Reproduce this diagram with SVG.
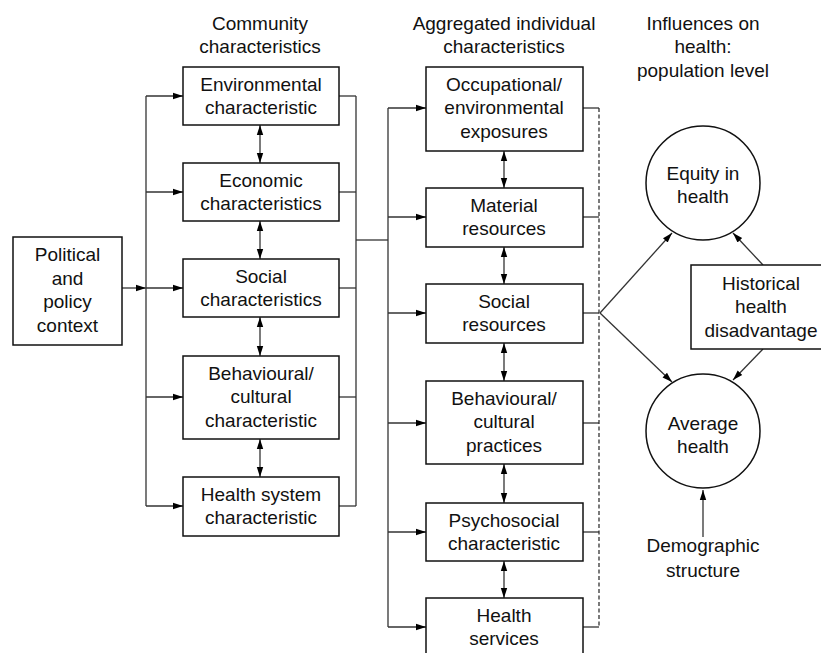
<svg xmlns="http://www.w3.org/2000/svg" width="821" height="653" viewBox="0 0 821 653">
<defs>
<marker id="ah" markerUnits="userSpaceOnUse" markerWidth="10" markerHeight="8" refX="10" refY="4" orient="auto-start-reverse" viewBox="0 0 10 8">
<path d="M0,0.8 L10,4 L0,7.2 z" fill="#000"/>
</marker>
<style>
text{font-family:"Liberation Sans",Arial,sans-serif;font-size:19px;fill:#111;text-anchor:middle}
.box{fill:#fff;stroke:#111;stroke-width:1.5}
.circ{fill:#fff;stroke:#111;stroke-width:1.5}
.ln{fill:none;stroke:#333;stroke-width:1.3}
.ar{fill:none;stroke:#333;stroke-width:1.3;marker-end:url(#ah)}
.dar{fill:none;stroke:#333;stroke-width:1.3;marker-end:url(#ah);marker-start:url(#ah)}
.dash{fill:none;stroke:#222;stroke-width:1.2;stroke-dasharray:4 2.5}
</style>
</defs>
<rect width="821" height="653" fill="#fff"/>

<g id="headers">
<text x="260" y="30">Community</text>
<text x="260" y="53">characteristics</text>
<text x="504" y="30">Aggregated individual</text>
<text x="504" y="53">characteristics</text>
<text x="703" y="30">Influences on</text>
<text x="703" y="53">health:</text>
<text x="703" y="77">population level</text>
</g>

<g id="connectors">
<!-- political to left bus -->
<line class="ar" x1="122" y1="288" x2="146" y2="288"/>
<line class="ln" x1="146" y1="96" x2="146" y2="506"/>
<line class="ar" x1="146" y1="96" x2="183" y2="96"/>
<line class="ar" x1="146" y1="192" x2="183" y2="192"/>
<line class="ar" x1="146" y1="288" x2="183" y2="288"/>
<line class="ar" x1="146" y1="397" x2="183" y2="397"/>
<line class="ar" x1="146" y1="506" x2="183" y2="506"/>
<!-- community right bus -->
<line class="ln" x1="339" y1="96" x2="356" y2="96"/>
<line class="ln" x1="339" y1="192" x2="356" y2="192"/>
<line class="ln" x1="339" y1="288" x2="356" y2="288"/>
<line class="ln" x1="339" y1="397" x2="356" y2="397"/>
<line class="ln" x1="339" y1="506" x2="356" y2="506"/>
<line class="ln" x1="356" y1="96" x2="356" y2="506"/>
<line class="ln" x1="356" y1="240" x2="388" y2="240"/>
<!-- second bus -->
<line class="ln" x1="388" y1="108" x2="388" y2="627"/>
<line class="ar" x1="388" y1="108" x2="426" y2="108"/>
<line class="ar" x1="388" y1="217" x2="426" y2="217"/>
<line class="ar" x1="388" y1="313" x2="426" y2="313"/>
<line class="ar" x1="388" y1="423" x2="426" y2="423"/>
<line class="ar" x1="388" y1="532" x2="426" y2="532"/>
<line class="ar" x1="388" y1="627" x2="426" y2="627"/>
<!-- community double arrows -->
<line class="dar" x1="260" y1="125" x2="260" y2="163"/>
<line class="dar" x1="260" y1="221" x2="260" y2="259"/>
<line class="dar" x1="260" y1="317" x2="260" y2="356"/>
<line class="dar" x1="260" y1="439" x2="260" y2="477"/>
<!-- aggregated double arrows -->
<line class="dar" x1="504" y1="151" x2="504" y2="188"/>
<line class="dar" x1="504" y1="247" x2="504" y2="284"/>
<line class="dar" x1="504" y1="343" x2="504" y2="381"/>
<line class="dar" x1="504" y1="464" x2="504" y2="503"/>
<line class="dar" x1="504" y1="561" x2="504" y2="598"/>
<!-- aggregated right side -->
<line class="ln" x1="583" y1="108" x2="599" y2="108"/>
<line class="ln" x1="583" y1="217" x2="599" y2="217"/>
<line class="ln" x1="583" y1="313" x2="599" y2="313"/>
<line class="ln" x1="583" y1="423" x2="599" y2="423"/>
<line class="ln" x1="583" y1="532" x2="599" y2="532"/>
<line class="ln" x1="583" y1="627" x2="599" y2="627"/>
<line class="dash" x1="599" y1="108" x2="599" y2="627"/>
<!-- to outcomes -->
<line class="ar" x1="600" y1="313" x2="672" y2="233"/>
<line class="ar" x1="600" y1="313" x2="672" y2="382"/>
<line class="ar" x1="763" y1="265" x2="733" y2="233"/>
<line class="ar" x1="763" y1="349" x2="733" y2="380"/>
<line class="ar" x1="703" y1="537" x2="703" y2="490"/>
</g>

<g id="political">
<rect class="box" x="13" y="237" width="109" height="108"/>
<text x="67.5" y="261">Political</text>
<text x="67.5" y="285">and</text>
<text x="67.5" y="308">policy</text>
<text x="67.5" y="332">context</text>
</g>

<g id="environmental">
<rect class="box" x="183" y="67" width="156" height="58"/>
<text x="261" y="91">Environmental</text>
<text x="261" y="114">characteristic</text>
</g>
<g id="economic">
<rect class="box" x="183" y="163" width="156" height="58"/>
<text x="261" y="187">Economic</text>
<text x="261" y="210">characteristics</text>
</g>
<g id="social">
<rect class="box" x="183" y="259" width="156" height="58"/>
<text x="261" y="283">Social</text>
<text x="261" y="306">characteristics</text>
</g>
<g id="behavioural">
<rect class="box" x="183" y="356" width="156" height="83"/>
<text x="261" y="380">Behavioural/</text>
<text x="261" y="403">cultural</text>
<text x="261" y="427">characteristic</text>
</g>
<g id="healthsystem">
<rect class="box" x="183" y="477" width="156" height="59"/>
<text x="261" y="501">Health system</text>
<text x="261" y="524">characteristic</text>
</g>

<g id="occupational">
<rect class="box" x="426" y="67" width="157" height="84"/>
<text x="504" y="91">Occupational/</text>
<text x="504" y="114">environmental</text>
<text x="504" y="138">exposures</text>
</g>
<g id="material">
<rect class="box" x="426" y="188" width="157" height="59"/>
<text x="504" y="212">Material</text>
<text x="504" y="235">resources</text>
</g>
<g id="socialresources">
<rect class="box" x="426" y="284" width="157" height="59"/>
<text x="504" y="308">Social</text>
<text x="504" y="331">resources</text>
</g>
<g id="practices">
<rect class="box" x="426" y="381" width="157" height="83"/>
<text x="504" y="405">Behavioural/</text>
<text x="504" y="428">cultural</text>
<text x="504" y="452">practices</text>
</g>
<g id="psychosocial">
<rect class="box" x="426" y="503" width="157" height="58"/>
<text x="504" y="527">Psychosocial</text>
<text x="504" y="550">characteristic</text>
</g>
<g id="healthservices">
<rect class="box" x="426" y="598" width="157" height="70"/>
<text x="504" y="622">Health</text>
<text x="504" y="645">services</text>
</g>

<g id="equity">
<circle class="circ" cx="703" cy="183" r="57"/>
<text x="703" y="180">Equity in</text>
<text x="703" y="203">health</text>
</g>
<g id="average">
<circle class="circ" cx="703" cy="431" r="57"/>
<text x="703" y="430">Average</text>
<text x="703" y="453">health</text>
</g>
<g id="historical">
<rect class="box" x="691" y="265" width="140" height="84"/>
<text x="761" y="290">Historical</text>
<text x="761" y="313">health</text>
<text x="761" y="337">disadvantage</text>
</g>
<g id="demographic">
<text x="703" y="552">Demographic</text>
<text x="703" y="577">structure</text>
</g>
</svg>
